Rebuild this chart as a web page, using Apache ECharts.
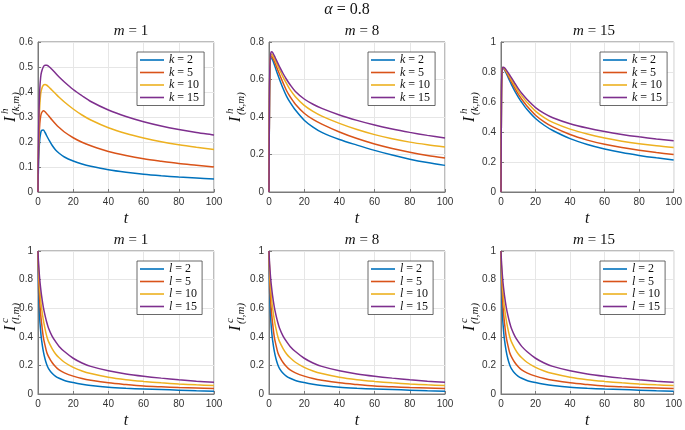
<!DOCTYPE html>
<html><head><meta charset="utf-8">
<script src="https://cdn.jsdelivr.net/npm/echarts@6/dist/echarts.min.js"></script>
<style>html,body{margin:0;padding:0;background:#fff}#c{width:685px;height:430px}</style>
</head><body><div id="c"></div>
<script>
// time samples (shared by every curve)
const t = [0,0.25,0.5,1,1.5,2,3,4,5,6,8,10,12,15,20,25,30,40,50,60,70,80,90,100];
const xTicks = [0,20,40,60,80,100];
const colors = ['#0072BD','#D95319','#EDB120','#7E2F8E'];
const topNames = ['k = 2','k = 5','k = 10','k = 15'];
const botNames = ['l = 2','l = 5','l = 10','l = 15'];
const panelTitles = ['m = 1','m = 8','m = 15'];

// I^h_(k,m), m = 1
const h_m1_k2  = [0,0.10,0.155,0.21,0.235,0.246,0.248,0.238,0.224,0.211,0.187,0.168,0.155,0.140,0.124,0.112,0.103,0.089,0.079,0.071,0.065,0.060,0.056,0.052];
const h_m1_k5  = [0,0.13,0.205,0.272,0.302,0.316,0.325,0.321,0.313,0.305,0.288,0.272,0.258,0.240,0.217,0.199,0.185,0.162,0.146,0.133,0.123,0.114,0.107,0.100];
const h_m1_k10 = [0,0.16,0.255,0.345,0.390,0.410,0.427,0.430,0.427,0.421,0.407,0.393,0.379,0.360,0.332,0.308,0.288,0.257,0.234,0.216,0.201,0.189,0.179,0.170];
const h_m1_k15 = [0,0.19,0.30,0.41,0.458,0.480,0.500,0.507,0.507,0.503,0.490,0.475,0.460,0.440,0.410,0.385,0.362,0.328,0.302,0.281,0.264,0.250,0.238,0.228];
// I^h_(k,m), m = 8
const h_m8_k2  = [0,0.45,0.64,0.718,0.714,0.705,0.680,0.652,0.625,0.600,0.552,0.510,0.478,0.437,0.383,0.346,0.318,0.280,0.250,0.222,0.197,0.175,0.157,0.142];
const h_m8_k5  = [0,0.46,0.65,0.724,0.724,0.717,0.698,0.674,0.650,0.627,0.582,0.540,0.508,0.468,0.420,0.387,0.362,0.320,0.285,0.256,0.232,0.212,0.195,0.181];
const h_m8_k10 = [0,0.47,0.66,0.732,0.735,0.730,0.713,0.692,0.672,0.652,0.613,0.578,0.546,0.508,0.462,0.430,0.405,0.366,0.333,0.306,0.284,0.266,0.252,0.240];
const h_m8_k15 = [0,0.48,0.67,0.740,0.748,0.745,0.727,0.707,0.687,0.668,0.632,0.600,0.572,0.536,0.496,0.468,0.446,0.411,0.382,0.357,0.336,0.318,0.302,0.288];
// I^h_(k,m), m = 15
const h_m15_k2  = [0,0.60,0.79,0.83,0.825,0.815,0.792,0.767,0.742,0.718,0.672,0.633,0.598,0.552,0.490,0.445,0.410,0.356,0.317,0.287,0.263,0.244,0.228,0.214];
const h_m15_k5  = [0,0.60,0.79,0.83,0.827,0.820,0.800,0.778,0.756,0.735,0.692,0.652,0.618,0.574,0.512,0.468,0.434,0.383,0.346,0.318,0.296,0.278,0.263,0.250];
const h_m15_k10 = [0,0.60,0.79,0.83,0.829,0.823,0.806,0.787,0.767,0.748,0.710,0.673,0.641,0.599,0.539,0.496,0.464,0.419,0.386,0.360,0.339,0.322,0.308,0.297];
const h_m15_k15 = [0,0.60,0.79,0.83,0.832,0.828,0.814,0.798,0.780,0.762,0.725,0.689,0.658,0.618,0.563,0.524,0.495,0.455,0.426,0.403,0.384,0.368,0.354,0.342];
// I^c_(l,m) (same shape read for m = 1, 8, 15)
const c_l2  = [1,0.78,0.66,0.52,0.44,0.38,0.30,0.245,0.205,0.178,0.145,0.124,0.110,0.095,0.080,0.068,0.059,0.047,0.040,0.035,0.031,0.027,0.023,0.020];
const c_l5  = [1,0.86,0.76,0.64,0.56,0.50,0.40,0.340,0.290,0.262,0.220,0.190,0.168,0.148,0.125,0.108,0.096,0.078,0.066,0.056,0.050,0.045,0.042,0.039];
const c_l10 = [1,0.90,0.83,0.73,0.66,0.605,0.52,0.455,0.402,0.366,0.318,0.280,0.253,0.222,0.186,0.161,0.143,0.117,0.100,0.088,0.078,0.070,0.064,0.059];
const c_l15 = [1,0.93,0.88,0.80,0.74,0.69,0.61,0.55,0.50,0.46,0.405,0.366,0.333,0.297,0.250,0.217,0.193,0.162,0.140,0.124,0.111,0.100,0.090,0.082];

const panels = [
  {names: topNames, series: [h_m1_k2,h_m1_k5,h_m1_k10,h_m1_k15], yMax: 0.6, yInt: 0.1, sup: 'h', sub: '(k,m)'},
  {names: topNames, series: [h_m8_k2,h_m8_k5,h_m8_k10,h_m8_k15], yMax: 0.8, yInt: 0.2, sup: 'h', sub: '(k,m)'},
  {names: topNames, series: [h_m15_k2,h_m15_k5,h_m15_k10,h_m15_k15], yMax: 1, yInt: 0.2, sup: 'h', sub: '(k,m)'},
  {names: botNames, series: [c_l2,c_l5,c_l10,c_l15], yMax: 1, yInt: 0.2, sup: 'c', sub: '(l,m)'},
  {names: botNames, series: [c_l2,c_l5,c_l10,c_l15], yMax: 1, yInt: 0.2, sup: 'c', sub: '(l,m)'},
  {names: botNames, series: [c_l2,c_l5,c_l10,c_l15], yMax: 1, yInt: 0.2, sup: 'c', sub: '(l,m)'}
];

// layout
const lefts = [38, 269, 501];
const tops = [42, 251];
const W = 176, H = 150;
const labelX = [11, 236, 470];
const SERIF = '"Liberation Serif", "DejaVu Serif", serif';
const SANS = '"Liberation Sans", Arial, sans-serif';

const grids = [], xAxes = [], yAxes = [], series = [], legends = [], titles = [], graphics = [];
titles.push({text: '{it|α} = 0.8', left: 342, top: -3, textAlign: 'center',
  textStyle: {fontFamily: SERIF, fontSize: 16, fontWeight: 'normal', color: '#111',
    rich: {it: {fontFamily: SERIF, fontStyle: 'italic', fontSize: 16, color: '#111'}}}});

panels.forEach((p, i) => {
  const col = i % 3, row = Math.floor(i / 3);
  const L = lefts[col], T = tops[row];
  grids.push({left: L, top: T, width: W, height: H, show: true, borderColor: '#7a7a7a', borderWidth: 1, backgroundColor: 'transparent'});
  xAxes.push({type: 'value', gridIndex: i, min: 0, max: 100, interval: 20,
    name: 't', nameLocation: 'middle', nameGap: 19,
    nameTextStyle: {fontFamily: SERIF, fontStyle: 'italic', fontSize: 16, color: '#111'},
    axisLine: {show: true, lineStyle: {color: '#7a7a7a'}},
    axisTick: {show: true, inside: true, length: 3, lineStyle: {color: '#7a7a7a'}},
    axisLabel: {fontFamily: SANS, fontSize: 10, color: '#333', margin: 5},
    splitLine: {show: true, lineStyle: {color: '#e6e6e6', width: 1}}});
  yAxes.push({type: 'value', gridIndex: i, min: 0, max: p.yMax, interval: p.yInt,
    axisLine: {show: true, lineStyle: {color: '#7a7a7a'}},
    axisTick: {show: true, inside: true, length: 3, lineStyle: {color: '#7a7a7a'}},
    axisLabel: {fontFamily: SANS, fontSize: 10, color: '#333', margin: 5,
      formatter: v => String(Math.round(v * 10) / 10)},
    splitLine: {show: true, lineStyle: {color: '#e6e6e6', width: 1}}});
  p.series.forEach((vals, j) => {
    series.push({type: 'line', name: p.names[j], xAxisIndex: i, yAxisIndex: i,
      data: t.map((tt, k) => [tt, vals[k]]), symbol: 'none', smooth: 0.3,
      color: colors[j], lineStyle: {width: 1.5, color: colors[j]}, animation: false, clip: true});
  });
  legends.push({data: p.names, orient: 'vertical', left: L + W - 77, top: T + 10,
    icon: 'rect', itemWidth: 24, itemHeight: 1.6, itemGap: 0.5, padding: [2, 5, 2, 3],
    backgroundColor: '#fff', borderColor: '#444', borderWidth: 0.8,
    selectedMode: false,
    formatter: n => { const s = n.split(' = '); return '{it|' + s[0] + '}{n| = ' + s[1] + '}'; },
    textStyle: {fontFamily: SERIF, fontSize: 12, color: '#111', lineHeight: 11.8,
      rich: {it: {fontFamily: SERIF, fontStyle: 'italic', fontSize: 12, color: '#111', lineHeight: 11.8},
             n: {fontFamily: SERIF, fontSize: 12, color: '#111', lineHeight: 11.8}}}});
  titles.push({text: '{it|m} = ' + panelTitles[col].split(' = ')[1], left: L + W / 2, top: T - 23, textAlign: 'center',
    textStyle: {fontFamily: SERIF, fontSize: 15, fontWeight: 'normal', color: '#111',
      rich: {it: {fontFamily: SERIF, fontStyle: 'italic', fontSize: 15, color: '#111'}}}});
  graphics.push({type: 'group', x: labelX[col], y: T + 80, rotation: Math.PI / 2, children: [
    {type: 'text', x: 0, y: 0, style: {text: 'I', font: 'italic 16px ' + SERIF, fill: '#111', align: 'left', verticalAlign: 'middle'}},
    {type: 'text', x: 8, y: -6, style: {text: p.sup, font: 'italic 11px ' + SERIF, fill: '#111', align: 'left', verticalAlign: 'middle'}},
    {type: 'text', x: 7, y: 5, style: {text: p.sub, font: 'italic 11px ' + SERIF, fill: '#111', align: 'left', verticalAlign: 'middle'}}
  ]});
});

const chart = echarts.init(document.getElementById('c'), null, {renderer: 'canvas'});
chart.setOption({animation: false, backgroundColor: '#fff', title: titles, grid: grids, xAxis: xAxes, yAxis: yAxes,
  legend: legends, series: series, graphic: graphics});
</script></body></html>
